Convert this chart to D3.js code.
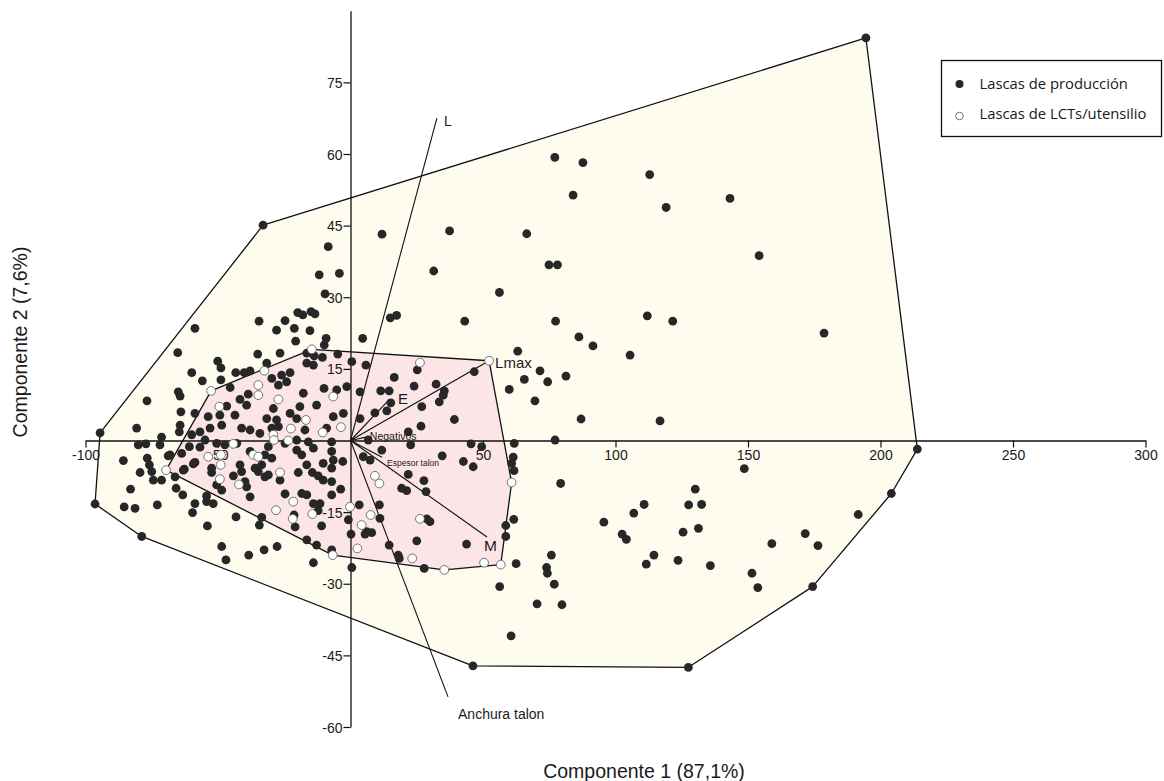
<!DOCTYPE html>
<html>
<head>
<meta charset="utf-8">
<script src="https://cdn.jsdelivr.net/npm/d3@7"></script>
<style>
  body { margin: 0; background: #ffffff; }
  svg { display: block; }
</style>
</head>
<body>
<svg id="chart" width="1164" height="781"></svg>
<script>
// PCA scores: production flakes (filled) and LCT / tool flakes (open)
const production = [
  [-94.5,1.6],[-96.4,-13.3],[-78.8,-20.1],[46.2,-47.2],[127.5,-47.5],[174.4,-30.6],[204.1,-11.1],[213.9,-1.8],[194.5,84.3],[-33.0,45.1],
  [77.1,59.3],[87.7,58.2],[112.9,55.7],[84.0,51.4],[119.1,48.8],[143.2,50.7],[11.9,43.2],[37.4,43.9],[66.5,43.3],[31.4,35.5],
  [74.9,36.8],[78.1,36.8],[154.2,38.7],[56.2,31.0],[17.4,26.2],[15.0,25.7],[43.1,25.0],[112.0,26.1],[121.6,25.0],[77.4,25.0],
  [178.7,22.5],[86.2,21.7],[91.5,19.8],[105.5,17.9],[81.3,13.5],[87.0,4.5],[116.8,4.1],
  [4.6,21.4],[0.5,16.5],[5.8,15.8],[-1.4,11.3],[3.6,10.2],[16.5,13.2],[25.2,14.8],[24.0,11.4],[11.4,10.4],[14.6,10.4],
  [15.2,7.9],[9.2,5.8],[13.7,6.2],[3.6,4.6],[-2.7,5.7],[32.3,11.8],[35.4,10.4],[35.0,9.5],[33.5,8.1],[26.9,7.1],
  [39.2,4.4],[26.6,3.0],[21.8,1.8],[46.7,14.4],[63.1,18.7],[71.5,14.6],[65.6,12.8],[74.4,12.3],[59.9,10.7],[69.6,8.3],
  [11.8,-2.0],[6.7,0.1],[22.7,-0.9],[45.5,-0.7],[49.5,-1.3],[61.8,-0.6],[77.2,0.1],
  [-8.4,40.6],[-11.8,34.7],[-4.2,35.0],[-9.6,30.7],[-19.9,26.8],[-18.0,26.3],[-14.9,27.0],[-13.4,26.5],[-34.5,25.0],[-24.7,25.1],
  [-27.9,23.1],[-21.2,23.5],[-15.3,23.0],[-9.2,21.4],[-20.7,20.8],[-9.9,20.0],
  [-58.7,23.5],[-65.2,18.4],[-35.0,18.1],[-26.6,18.3],[-50.1,16.6],[-48.9,15.2],[-31.6,16.2],[-16.5,18.3],[-13.7,17.7],[-10.6,17.4],[-4.8,18.1],
  [-59.9,14.2],[-43.3,14.2],[-40.1,14.2],[-37.9,14.6],[-55.9,12.5],[-48.9,12.7],[-45.4,11.1],[-29.7,13.0],[-26.0,13.7],[-22.8,14.2],
  [-24.1,12.3],[-27.2,11.6],[-16.5,16.2],[-14.0,15.8],[-5.2,10.6],[-10.0,10.9],
  [-65.0,10.2],[-64.3,9.3],[-41.7,8.6],[-38.6,9.7],[-17.8,9.9],[-39.2,7.4],[-46.7,7.2],[-64.0,6.0],[-58.7,5.7],[-53.7,5.0],
  [-49.3,5.3],[-43.6,5.3],[-29.1,6.7],[-19.1,7.1],[-22.8,5.7],[-20.3,4.6],[-12.8,7.4],[-6.5,5.0],[-31.6,4.6],[-27.9,4.3],
  [-27.2,2.9],[-29.7,2.6],[-41.1,2.6],[-37.9,2.2],[-48.6,3.2],[-53.0,2.6],[-56.8,1.8],[-64.3,3.2],[-64.6,1.8],[-71.3,0.7],
  [-59.9,1.2],[-54.9,0.1],[-34.2,1.5],[-17.2,2.2],[-15.9,-0.3],[-9.0,2.6],[-7.1,-0.3],[-20.3,0.1],[-76.8,8.3],[-80.7,2.6],
  [-71.9,-0.9],[-80.1,-0.9],[-77.2,-0.7],[-68.1,-3.0],[-63.7,-2.7],[-60.8,-1.3],[-56.8,-1.4],[-50.5,-0.6],[-47.4,-0.9],[-42.9,-0.6],
  [-37.9,-2.3],[-32.3,-3.0],[-29.7,-3.7],[-31.0,-1.3],[-24.7,-0.6],[-20.3,-2.0],[-18.4,-3.0],[-14.0,-1.6],[-7.1,-2.3],[-10.3,-4.8],
  [-6.5,-4.1],[-2.9,-4.4],[-7.1,-5.8],
  [-58.7,-4.6],[-52.4,-6.7],[-63.1,-6.2],[-41.7,-5.1],[-41.1,-6.5],[-44.2,-7.4],[-39.8,-8.6],[-36.0,-5.8],[-34.8,-6.5],[-32.3,-7.6],
  [-31.0,-7.2],[-33.5,-5.1],[-26.6,-8.3],[-19.7,-6.7],[-16.5,-5.1],[-14.4,-6.7],[-12.2,-7.4],[-10.3,-8.3],[-7.1,-8.6],[-3.7,-10.2],
  [-24.7,-11.2],[-18.4,-11.1],[-16.5,-11.4],[-14.0,-13.2],[-11.5,-13.2],[-7.1,-11.4],[-50.5,-9.3],[-48.6,-10.4],[-39.2,-9.7],[-37.9,-11.8],
  [-21.3,-15.6],[-20.9,-18.1],[-12.2,-14.7],[-10.9,-17.9],[-16.5,-20.8],[-12.8,-21.9],[-7.1,-22.9],[-0.8,-16.6],[0.2,-19.6],
  [-72.9,-13.5],[-66.2,-7.6],[-63.3,-11.4],[-58.7,-13.2],[-59.6,-15.1],[-54.3,-12.8],[-51.8,-13.2],[-54.0,-17.9],[-43.2,-16.0],[-34.4,-17.7],
  [-33.5,-16.1],[-48.6,-22.2],[-47.0,-25.0],[-38.4,-24.0],[-32.6,-22.9],[-27.7,-22.2],[-14.0,-25.6],[-75.0,-6.5],[-71.3,-8.3],[-85.7,-4.2],
  [-76.7,-3.7],[-75.9,-5.1],[-79.4,-6.7],[-68.8,-3.2],[-83.0,-10.2],[-74.4,-8.3],[-85.4,-13.9],[-81.3,-14.2],[-65.8,-10.0],[-54.3,-11.6],
  [0.5,-26.6],[-62.7,-6.0],[-59.3,-4.9],[-52.4,-5.8],
  [3.3,-13.5],[10.9,-13.5],[6.1,-19.1],[8.0,-19.3],[14.6,-21.9],[11.1,-16.3],
  [34.6,-3.2],[42.6,-4.4],[46.3,-5.5],[61.4,-3.5],[60.8,-4.8],[61.7,-6.3],[4.8,-3.4],[7.4,-4.1],[21.8,-7.1],[27.7,-8.4],
  [28.5,-10.7],[19.3,-10.0],[21.2,-10.5],[5.5,-19.6],[28.8,-16.4],[30.0,-17.0],[25.0,-21.0],[18.0,-24.0],[18.4,-24.7],[43.8,-21.7],
  [61.6,-16.5],[58.6,-17.8],[58.6,-20.1],[27.8,-26.8],[62.5,-25.8],[56.3,-30.6],[75.8,-24.0],[74.0,-26.6],[74.3,-27.8],[76.9,-30.1],
  [79.3,-9.0],
  [95.6,-17.1],[102.5,-19.6],[104.1,-20.7],[106.9,-15.2],[110.8,-13.4],[79.8,-34.4],[111.6,-25.9],[114.5,-24.0],[123.6,-25.1],[125.5,-19.2],
  [127.6,-13.5],[130.1,-10.2],[132.5,-13.4],[131.3,-18.4],[135.8,-26.2],[148.6,-5.9],[151.5,-27.8],[153.7,-30.8],[159.0,-21.6],[171.6,-19.5],
  [176.4,-22.0],[191.6,-15.5],[70.4,-34.2],[60.6,-40.9]
];

const tools = [
  [-69.6,-6.2],[-52.6,10.4],[-32.5,14.6],[-14.6,19.1],[-34.8,11.6],[-34.8,9.5],[-27.2,8.6],[-49.5,7.1],[-16.8,4.3],[-6.5,9.2],
  [-3.6,2.8],[-10.5,1.7],[-22.5,2.5],[-29.1,1.2],[-28.9,0.1],[-23.5,0.0],[-44.2,-0.7],[-53.7,-3.4],[-48.9,-3.0],[-49.0,-5.1],
  [-49.3,-8.1],[-36.7,-3.0],[-34.8,-3.4],[-26.6,-6.7],[-42.1,-9.2],[-21.6,-12.8],[-28.1,-14.6],[-21.8,-16.4],[-14.4,-15.4],[-6.7,-24.0],
  [-0.2,-13.9],[2.6,-22.6],[7.6,-15.6],[4.2,-17.7],[9.2,-7.4],[10.9,-9.0],[26.2,-16.4],[23.3,-24.7],[35.4,-27.1],[50.4,-25.6],
  [56.7,-26.0],[60.8,-8.8],[52.3,16.7],[26.2,16.3]
];

// Variable loadings drawn as vectors from the origin
const loadingNames = ["L", "Lmax", "E", "Negativos", "Espesor talon", "M", "Anchura talon"];
const loadingX = [32.6, 52.3, 14.5, 5.8, 11.9, 51.5, 36.8];
const loadingY = [67.5, 16.7, 8.5, 0.7, -3.5, -20.2, -53.7];

const xTicks = [-100, -50, 50, 100, 150, 200, 250, 300];
const yTicks = [75, 60, 45, 30, 15, -15, -30, -45, -60];

const legendLabels = ["Lascas de producción", "Lascas de LCTs/utensilio"];
const xTitle = "Componente 1 (87,1%)";
const yTitle = "Componente 2 (7,6%)";

// ---- drawing ----
const svg = d3.select("#chart");
const x = d3.scaleLinear().domain([-100, 300]).range([85.5, 1145.5]);
const y = d3.scaleLinear().domain([-60, 90]).range([727, 10.75]);

const toPx = d => [x(d[0]), y(d[1])];
const line = d3.line();

// convex hulls: all flakes and tool flakes only
const outerHull = d3.polygonHull(production.concat(tools));
const innerHull = d3.polygonHull(tools);

svg.append("path")
  .attr("d", line(outerHull.map(toPx)) + "Z")
  .attr("fill", "#fdfcef")
  .attr("stroke", "#111")
  .attr("stroke-width", 1.3)
  .attr("stroke-linejoin", "round");

svg.append("path")
  .attr("d", line(innerHull.map(toPx)) + "Z")
  .attr("fill", "#fbe5e6")
  .attr("stroke", "#111")
  .attr("stroke-width", 1.3)
  .attr("stroke-linejoin", "round");

const tickFont = "'Liberation Sans', Arial, sans-serif";
const plainNumber = d => String(d);   // keeps an ASCII hyphen for negatives

// axes crossing at the origin
const xAxis = d3.axisBottom(x).tickValues(xTicks).tickSize(7).tickSizeOuter(0).tickPadding(3)
  .tickFormat(plainNumber);
const yAxis = d3.axisLeft(y).tickValues(yTicks).tickSize(7).tickSizeOuter(0).tickPadding(1)
  .tickFormat(plainNumber);

const gx = svg.append("g").attr("transform", `translate(0,${y(0)})`).call(xAxis);
const gy = svg.append("g").attr("transform", `translate(${x(0)},0)`).call(yAxis);
[gx, gy].forEach(g => {
  g.select(".domain").attr("stroke", "#111").attr("stroke-width", 1.3);
  g.selectAll(".tick line").attr("stroke", "#111").attr("stroke-width", 1.2);
  g.selectAll(".tick text")
    .attr("fill", "#1a1a1a")
    .style("font-family", tickFont)
    .style("font-size", "14px");
});
gy.selectAll(".tick text").attr("dy", "0.36em");

// loading vectors
const loadings = loadingNames.map((n, i) => ({ name: n, x: loadingX[i], y: loadingY[i] }));
svg.append("g").selectAll("line").data(loadings).join("line")
  .attr("x1", x(0)).attr("y1", y(0))
  .attr("x2", d => x(d.x)).attr("y2", d => y(d.y))
  .attr("stroke", "#111").attr("stroke-width", 1.1);

// points
const r = 4.4;
svg.append("g").selectAll("circle").data(production).join("circle")
  .attr("cx", d => x(d[0])).attr("cy", d => y(d[1])).attr("r", r)
  .attr("fill", "#272727");
svg.append("g").selectAll("circle").data(tools).join("circle")
  .attr("cx", d => x(d[0])).attr("cy", d => y(d[1])).attr("r", r)
  .attr("fill", "#ffffff").attr("stroke", "#555").attr("stroke-width", 0.8);

// loading labels
const labelStyle = {
  "L": { dx: 7, dy: 8, size: 14 },
  "Lmax": { dx: 6, dy: 7, size: 15 },
  "E": { dx: 9, dy: 4, size: 15 },
  "Negativos": { dx: 4, dy: 3, size: 10.5 },
  "Espesor talon": { dx: 5, dy: 9, size: 8.5 },
  "M": { dx: -3, dy: 14, size: 15.5 },
  "Anchura talon": { dx: 10, dy: 22, size: 14 }
};
svg.append("g").selectAll("text").data(loadings).join("text")
  .attr("x", d => x(d.x) + labelStyle[d.name].dx)
  .attr("y", d => y(d.y) + labelStyle[d.name].dy)
  .style("font-family", tickFont)
  .style("font-size", d => labelStyle[d.name].size + "px")
  .attr("fill", "#1a1a1a")
  .text(d => d.name);

// axis titles
svg.append("text")
  .attr("x", 644).attr("y", 778)
  .attr("text-anchor", "middle")
  .style("font-family", tickFont).style("font-size", "19.5px")
  .attr("fill", "#1a1a1a")
  .text(xTitle);
svg.append("text")
  .attr("transform", "translate(27,342) rotate(-90)")
  .attr("text-anchor", "middle")
  .style("font-family", tickFont).style("font-size", "19.5px")
  .attr("fill", "#1a1a1a")
  .text(yTitle);

// legend
const lg = svg.append("g").attr("transform", "translate(941.5,60.5)");
lg.append("rect").attr("width", 220).attr("height", 76)
  .attr("fill", "#ffffff").attr("stroke", "#111").attr("stroke-width", 1.3);
const legendItems = legendLabels.map((t, i) => ({ label: t, open: i === 1 }));
const li = lg.selectAll("g.item").data(legendItems).join("g")
  .attr("class", "item")
  .attr("transform", (d, i) => `translate(0,${23.5 + i * 30})`);
li.append("circle").attr("cx", 18).attr("cy", d => d.open ? 2 : 0).attr("r", d => d.open ? 3.8 : 4)
  .attr("fill", d => d.open ? "#fff" : "#262626")
  .attr("stroke", d => d.open ? "#555" : "none").attr("stroke-width", 0.8);
li.append("text").attr("x", 38).attr("y", 5)
  .style("font-family", "'Open Sans', 'Noto Sans', sans-serif").style("font-size", "14.8px")
  .attr("fill", "#1a1a1a")
  .text(d => d.label);
</script>
</body>
</html>
